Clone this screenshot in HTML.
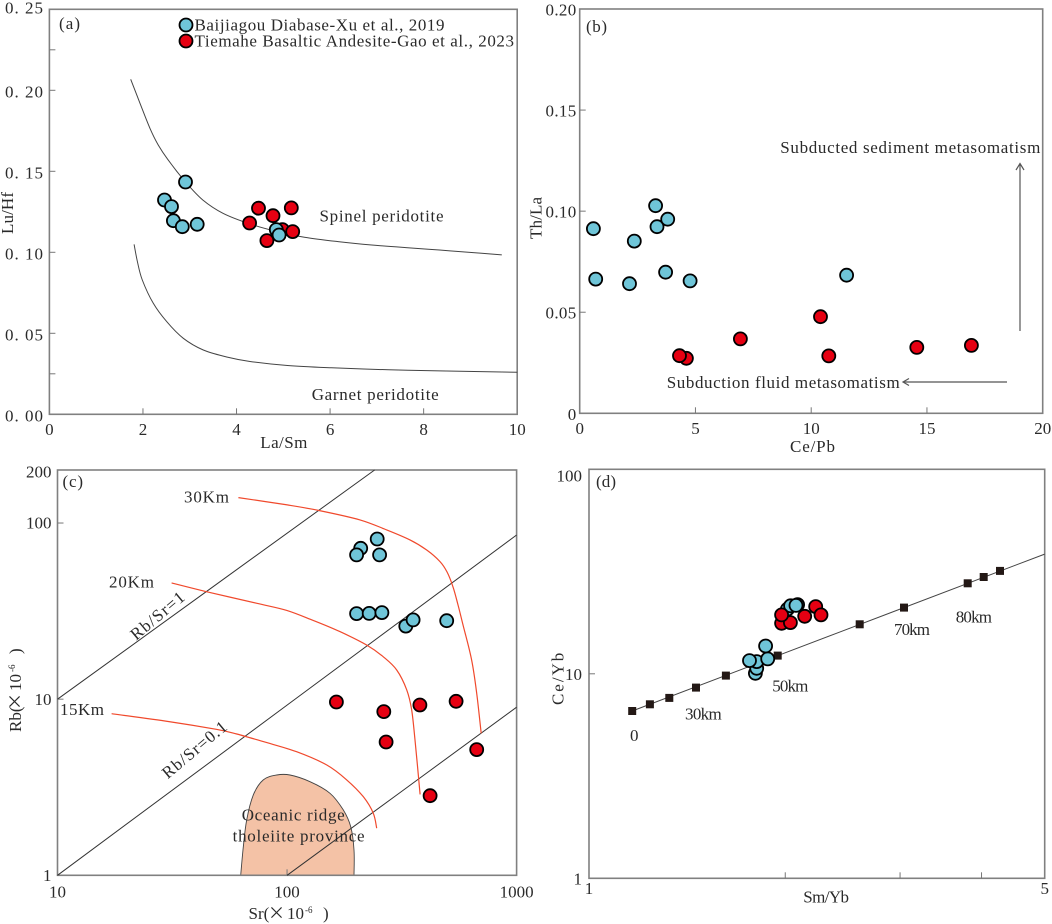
<!DOCTYPE html>
<html lang="en">
<head>
<meta charset="utf-8">
<title>Geochemical discrimination diagrams</title>
<style>
html,body{margin:0;padding:0;background:#fff;width:1052px;height:924px;overflow:hidden}
svg{display:block}
text{font-family:"Liberation Serif","Noto Serif CJK SC",serif;fill:#2a2a2a;font-size:17px}
.cjk{font-family:"Noto Sans CJK SC","Liberation Sans",sans-serif}
</style>
</head>
<body>
<svg id="chart" xmlns="http://www.w3.org/2000/svg" width="1052" height="924" viewBox="0 0 1052 924">
  <rect width="1052" height="924" fill="#fff"/>

  <g id="panel-a"></g>
  <g id="panel-b"></g>
  <g id="panel-c"></g>
  <g id="panel-d"></g>

  <g>
    <text x="59" y="29" textLength="21">(a)</text>
    <circle cx="186" cy="25" r="6.5" fill="#6fc5d8" stroke="#000" stroke-width="1.8"/>
    <text x="194.5" y="30.5" textLength="250">Baijiagou Diabase-Xu et al., 2019</text>
    <circle cx="186" cy="41" r="6.5" fill="#e60012" stroke="#000" stroke-width="1.8"/>
    <text x="194.5" y="46.5" textLength="319.5">Tiemahe Basaltic Andesite-Gao et al., 2023</text>
    <text x="319.5" y="221.5" textLength="124">Spinel peridotite</text>
    <text x="311.7" y="400" textLength="127">Garnet peridotite</text>
    <text x="260.3" y="448" textLength="47">La/Sm</text>
    <text transform="translate(13,234) rotate(-90)" textLength="42">Lu/Hf</text>
  </g>

  <g>
    <text x="586" y="32" textLength="21">(b)</text>
    <text x="780.3" y="153" textLength="260">Subducted sediment metasomatism</text>
    <text x="666.7" y="388" textLength="233">Subduction fluid metasomatism</text>
    <g fill="none" stroke="#555" stroke-width="1.2">
      <path d="M1020 331V164"/><path d="M1016 170L1020 163.5L1024 170"/>
    </g>
    <g fill="none" stroke="#555" stroke-width="1.2">
      <path d="M1007 382H904"/><path d="M909 378.5L903 382L909 385.5"/>
    </g>
    <text x="790" y="452" textLength="45">Ce/Pb</text>
    <text transform="translate(541.7,239) rotate(-90)" textLength="42">Th/La</text>
  </g>

  <g>
    <text x="62.5" y="487" textLength="20.5">(c)</text>
    <text x="184" y="502.7" textLength="45">30Km</text>
    <text x="109" y="587.7" textLength="45">20Km</text>
    <text x="60" y="715" textLength="44">15Km</text>
    <text transform="translate(161,620) rotate(-40)" text-anchor="middle" textLength="65">Rb/Sr=1</text>
    <text transform="translate(198,754) rotate(-40)" text-anchor="middle" textLength="79">Rb/Sr=0.1</text>
    <text x="241.7" y="820.7" textLength="103">Oceanic ridge</text>
    <text x="232.6" y="841.7" textLength="132">tholeiite province</text>
    <text y="919"><tspan x="248.5">Sr(</tspan><tspan class="cjk" x="268">×</tspan><tspan x="287">10</tspan><tspan x="305" dy="-6" font-size="9">-6</tspan><tspan x="323" dy="6">)</tspan></text>
    <text transform="translate(21,732) rotate(-90)"><tspan x="0">Rb(</tspan><tspan class="cjk" x="22">×</tspan><tspan x="41">10</tspan><tspan x="60" dy="-6" font-size="9">-6</tspan><tspan x="78" dy="6">)</tspan></text>
  </g>

  <g>
    <text x="596" y="487" textLength="20">(d)</text>
    <text x="630" y="741">0</text>
    <text x="685" y="719.3" textLength="36.7">30km</text>
    <text x="772.3" y="691.7" textLength="36">50km</text>
    <text x="894" y="635" textLength="36">70km</text>
    <text x="955.7" y="622.7" textLength="36.3">80km</text>
    <text x="803.3" y="902.7" textLength="45.7">Sm/Yb</text>
    <text transform="translate(563.3,705) rotate(-90)" textLength="52.3">Ce/Yb</text>
  </g>
</svg>

<script>
// Panel (a) La/Sm vs Lu/Hf
const aBlueLaSm = [2.46, 2.61, 2.65, 2.84, 3.16, 2.91, 4.85, 4.91];
const aBlueLuHf = [0.1323, 0.1282, 0.1195, 0.1158, 0.1173, 0.1434, 0.1140, 0.1107];
const aRedBackLaSm = [4.98];
const aRedBackLuHf = [0.1140];
const aRedLaSm = [4.28, 4.47, 4.78, 5.17, 5.20, 4.65];
const aRedLuHf = [0.1181, 0.1272, 0.1226, 0.1274, 0.1128, 0.1072];
const aSpinelLaSm = [1.738, 1.937, 2.15, 2.328, 2.529, 2.91, 3.28, 3.71, 4.29, 4.87, 5.45, 6.17, 6.89, 7.62, 8.34, 9.06, 9.67];
const aSpinelLuHf = [0.2068, 0.192, 0.1765, 0.1662, 0.1574, 0.1434, 0.1323, 0.1241, 0.1175, 0.1128, 0.1093, 0.1066, 0.1045, 0.1029, 0.1014, 0.0998, 0.0984];
const aGarnetLaSm = [1.81, 1.88, 1.986, 2.221, 2.507, 2.862, 3.29, 3.79, 4.288, 5.09, 6.03, 7.25, 8.34, 10];
const aGarnetLuHf = [0.1049, 0.0945, 0.0829, 0.0685, 0.0572, 0.0469, 0.0397, 0.0354, 0.0326, 0.0301, 0.0287, 0.0275, 0.0268, 0.0259];
const aXTicks = [0, 2, 4, 6, 8, 10];
const aXLabels = ['0', '2', '4', '6', '8', '10'];
const aYTicks = [0, 0.025, 0.05, 0.1, 0.15, 0.2, 0.225, 0.25];
const aYLabelValues = [0, 0.05, 0.1, 0.15, 0.2, 0.25];
const aYLabels = ['0. 00', '0. 05', '0. 10', '0. 15', '0. 20', '0. 25'];

// Panel (b) Ce/Pb vs Th/La
const bBlueCePb = [0.59, 0.69, 2.15, 2.36, 3.28, 3.34, 3.80, 3.71, 4.77, 11.53];
const bBlueThLa = [0.0913, 0.0664, 0.0641, 0.0852, 0.1027, 0.0923, 0.0960, 0.0698, 0.0655, 0.0683];
const bRedCePb = [4.61, 4.31, 6.94, 10.40, 10.76, 14.56, 16.92];
const bRedThLa = [0.0272, 0.0285, 0.0368, 0.0478, 0.0284, 0.0326, 0.0336];
const bXTicks = [0, 5, 10, 15, 20];
const bXLabels = ['0', '5', '10', '15', '20'];
const bYTicks = [0, 0.05, 0.1, 0.15, 0.2];
const bYLabels = ['0', '0.05', '0.10', '0.15', '0.20'];

// Panel (c) Sr vs Rb
const cBlueSr = [209.4, 201, 247, 253, 201, 228, 259, 329, 354, 496];
const cBlueRb = [71.9, 65.9, 81.2, 65.9, 30.6, 30.7, 31.0, 26.0, 28.2, 27.9];
const cRedSr = [164, 264, 379, 545, 270, 670, 420];
const cRedRb = [9.64, 8.5, 9.27, 9.72, 5.71, 5.17, 2.83];
const cRatio1Sr = [10, 240.6];
const cRatio1Rb = [10, 200];
const cRatio01Sr = [10, 1000];
const cRatio01Rb = [1, 85.5];
const cRatio001Sr = [100, 1000];
const cRatio001Rb = [1, 9.0];
const c30Sr = [61.4, 100.3, 138.5, 207.9, 271.7, 343.2, 405.8, 463.8, 497.6, 528.5, 555.5, 584, 637, 670, 701];
const c30Rb = [139.4, 126.7, 117.6, 104.1, 91.4, 80.2, 70.3, 60.4, 52.8, 43.4, 34.3, 26.4, 16.7, 10.8, 6.40];
const c20Sr = [31.4, 46.0, 73.9, 99.7, 130, 170, 222, 262.6, 300.5, 332, 349, 361, 380];
const c20Rb = [45.7, 40.4, 35.0, 31.9, 28.0, 24.2, 20.3, 17.4, 14.65, 11.3, 8.68, 5.87, 2.88];
const c15Sr = [17.2, 30.6, 49.2, 60.4, 78.8, 110, 149, 182, 215, 237.5, 245.8];
const c15Rb = [8.27, 7.46, 6.74, 6.34, 5.74, 5.03, 4.23, 3.48, 2.79, 2.25, 1.85];
const cFieldSr = [62.8, 64.5, 66.7, 71.3, 78.8, 90.1, 103, 125.9, 153.9, 175.8, 189.4, 195.8, 195.8];
const cFieldRb = [1, 1.45, 2.06, 2.86, 3.48, 3.71, 3.71, 3.40, 2.92, 2.35, 1.89, 1.39, 1];
const cXTicks = [100];
const cXLabelValues = [10, 100, 1000];
const cXLabels = ['10', '100', '1000'];
const cYTicks = [10, 100];
const cYLabelValues = [1, 10, 100, 200];
const cYLabels = ['1', '10', '100', '200'];

// Panel (d) Sm/Yb vs Ce/Yb
const dBlueSmYb = [1.800, 1.808, 1.808, 1.880, 1.866, 1.763, 2.015, 2.089, 2.038, 2.077];
const dBlueCeYb = [10.06, 10.64, 11.47, 11.82, 13.68, 11.6, 20.7, 21.8, 21.5, 21.6];
const dRedSmYb = [1.974, 2.037, 1.974, 2.142, 2.227, 2.269];
const dRedCeYb = [17.65, 17.8, 19.4, 19.1, 21.3, 19.4];
const dMeltSmYb = [1.165, 1.240, 1.328, 1.459, 1.622, 1.947, 2.601, 3.042, 3.809, 4.031, 4.270];
const dMeltCeYb = [6.58, 7.09, 7.62, 8.56, 9.80, 12.27, 17.46, 21.07, 27.7, 29.75, 31.84];
const dLineSmYb = [1.165, 5];
const dLineCeYb = [6.58, 38.5];
const dXTicks = [2, 3, 4];
const dXLabelValues = [1, 5];
const dXLabels = ['1', '5'];
const dYTicks = [10];
const dYLabelValues = [1, 10, 100];
const dYLabels = ['1', '10', '100'];

const SVGNS = 'http://www.w3.org/2000/svg';
function make(parent, tag, name) {
  const el = document.createElementNS(SVGNS, tag);
  
  
  parent.appendChild(el);
  return el;
}
function linScale(d0, d1, r0, r1) {
  return v => r0 + (v - d0) / (d1 - d0) * (r1 - r0);
}
function logScale(d0, d1, r0, r1) {
  return v => r0 + (Math.log10(v) - Math.log10(d0)) / (Math.log10(d1) - Math.log10(d0)) * (r1 - r0);
}
function smoothPath(xs, ys, sx, sy) {
  const p = xs.map((x, i) => [sx(x), sy(ys[i])]);
  let d = 'M' + p[0][0].toFixed(1) + ' ' + p[0][1].toFixed(1);
  for (let i = 0; i < p.length - 1; i++) {
    const a = p[Math.max(i - 1, 0)], b = p[i], c = p[i + 1], e = p[Math.min(i + 2, p.length - 1)];
    const c1x = b[0] + (c[0] - a[0]) / 6, c1y = b[1] + (c[1] - a[1]) / 6;
    const c2x = c[0] - (e[0] - b[0]) / 6, c2y = c[1] - (e[1] - b[1]) / 6;
    d += 'C' + [c1x, c1y, c2x, c2y, c[0], c[1]].map(n => n.toFixed(1)).join(' ');
  }
  return d;
}
function curve(g, name, xs, ys, sx, sy, color, width) {
  const el = make(g, 'path', name);
  el.setAttribute('d', smoothPath(xs, ys, sx, sy));
  el.setAttribute('fill', 'none');
  el.setAttribute('stroke', color);
  el.setAttribute('stroke-width', width);
  return el;
}
function dots(g, name, xs, ys, sx, sy, fill) {
  xs.forEach((x, i) => {
    const el = make(g, 'circle', name);
    el.setAttribute('cx', sx(x).toFixed(1));
    el.setAttribute('cy', sy(ys[i]).toFixed(1));
    el.setAttribute('r', 6.5);
    el.setAttribute('fill', fill);
    el.setAttribute('stroke', '#000');
    el.setAttribute('stroke-width', 1.8);
  });
}
function axes(g, key, f, sx, sy, xt, yt, xlv, xl, ylv, yl, yRight, xBase, topNudge, yShift, spacing) {
  const frame = make(g, 'rect', key + '-plot-frame');
  frame.setAttribute('x', f.x0);
  frame.setAttribute('y', f.y0);
  frame.setAttribute('width', f.x1 - f.x0);
  frame.setAttribute('height', f.y1 - f.y0);
  frame.setAttribute('fill', 'none');
  frame.setAttribute('stroke', '#808080');
  frame.setAttribute('stroke-width', 1.6);
  xt.forEach(v => {
    const t = make(g, 'line', key + '-x-tick');
    t.setAttribute('x1', sx(v)); t.setAttribute('x2', sx(v));
    t.setAttribute('y1', f.y1); t.setAttribute('y2', f.y1 - 6);
    t.setAttribute('stroke', '#777'); t.setAttribute('stroke-width', 1);
  });
  yt.forEach(v => {
    const t = make(g, 'line', key + '-y-tick');
    t.setAttribute('x1', f.x0); t.setAttribute('x2', f.x0 + 6);
    t.setAttribute('y1', sy(v)); t.setAttribute('y2', sy(v));
    t.setAttribute('stroke', '#777'); t.setAttribute('stroke-width', 1);
  });
  xlv.forEach((v, i) => {
    const t = make(g, 'text', key + '-x-tick-label');
    t.setAttribute('x', sx(v));
    t.setAttribute('y', xBase);
    t.setAttribute('text-anchor', 'middle');
    t.textContent = xl[i];
  });
  ylv.forEach((v, i) => {
    const t = make(g, 'text', key + '-y-tick-label');
    let y = sy(v) + yShift;
    if (sy(v) < f.y0 + 1) y += topNudge;
    t.setAttribute('x', yRight);
    t.setAttribute('y', y + 5.7);
    t.setAttribute('text-anchor', 'end');
    t.setAttribute('letter-spacing', spacing);
    t.textContent = yl[i];
  });
}

// ---- Panel a ----
(function () {
  const g = document.getElementById('panel-a');
  const f = {x0: 49.4, x1: 517.2, y0: 9.3, y1: 414.3};
  const sx = linScale(0, 10, f.x0, f.x1), sy = linScale(0, 0.25, f.y1, f.y0);
  axes(g, 'a', f, sx, sy, aXTicks.slice(1, -1), aYTicks.slice(1, -1), aXTicks, aXLabels, aYLabelValues, aYLabels, 44, 435, -3, 1.5, 1);
  curve(g, 'spinel-curve', aSpinelLaSm, aSpinelLuHf, sx, sy, '#444', 1);
  curve(g, 'garnet-curve', aGarnetLaSm, aGarnetLuHf, sx, sy, '#444', 1);
  dots(g, 'tiemahe-point', aRedBackLaSm, aRedBackLuHf, sx, sy, '#e60012');
  dots(g, 'baijiagou-point', aBlueLaSm, aBlueLuHf, sx, sy, '#6fc5d8');
  dots(g, 'tiemahe-point', aRedLaSm, aRedLuHf, sx, sy, '#e60012');
})();

// ---- Panel b ----
(function () {
  const g = document.getElementById('panel-b');
  const f = {x0: 579.7, x1: 1042.7, y0: 9, y1: 413.3};
  const sx = linScale(0, 20, f.x0, f.x1), sy = linScale(0, 0.2, f.y1, f.y0);
  axes(g, 'b', f, sx, sy, bXTicks.slice(1, -1), bYTicks.slice(1, -1), bXTicks, bXLabels, bYTicks, bYLabels, 576.5, 434, 0, 0.8, 0.3);
  dots(g, 'baijiagou-point', bBlueCePb, bBlueThLa, sx, sy, '#6fc5d8');
  dots(g, 'tiemahe-point', bRedCePb, bRedThLa, sx, sy, '#e60012');
})();

// ---- Panel c ----
(function () {
  const g = document.getElementById('panel-c');
  const f = {x0: 57.5, x1: 516.6, y0: 470, y1: 875.3};
  const sx = logScale(10, 1000, f.x0, f.x1), sy = logScale(1, 200, f.y1, f.y0);
  const field = make(g, 'path', 'oceanic-ridge-tholeiite-field');
  field.setAttribute('d', smoothPath(cFieldSr, cFieldRb, sx, sy) + 'Z');
  field.setAttribute('fill', '#f4c2a6');
  field.setAttribute('stroke', '#444');
  field.setAttribute('stroke-width', 0.9);
  axes(g, 'c', f, sx, sy, cXTicks, cYTicks, cXLabelValues, cXLabels, cYLabelValues, cYLabels, 51.5, 897.5, 2, 0, 0);
  curve(g, 'rb-sr-1-line', cRatio1Sr, cRatio1Rb, sx, sy, '#333', 1);
  curve(g, 'rb-sr-0.1-line', cRatio01Sr, cRatio01Rb, sx, sy, '#333', 1);
  curve(g, 'rb-sr-0.01-line', cRatio001Sr, cRatio001Rb, sx, sy, '#333', 1);
  curve(g, 'depth-curve-30km', c30Sr, c30Rb, sx, sy, '#f0492c', 1.2);
  curve(g, 'depth-curve-20km', c20Sr, c20Rb, sx, sy, '#f0492c', 1.2);
  curve(g, 'depth-curve-15km', c15Sr, c15Rb, sx, sy, '#f0492c', 1.2);
  dots(g, 'baijiagou-point', cBlueSr, cBlueRb, sx, sy, '#6fc5d8');
  dots(g, 'tiemahe-point', cRedSr, cRedRb, sx, sy, '#e60012');
})();

// ---- Panel d ----
(function () {
  const g = document.getElementById('panel-d');
  const f = {x0: 589, x1: 1044.7, y0: 469.3, y1: 878.3};
  const sx = logScale(1, 5, f.x0, f.x1), sy = logScale(1, 100, f.y1, f.y0);
  axes(g, 'd', f, sx, sy, dXTicks, dYTicks, dXLabelValues, dXLabels, dYLabelValues, dYLabels, 582, 894, 6, 0.5, 0);
  curve(g, 'melting-curve', dLineSmYb, dLineCeYb, sx, sy, '#444', 1);
  dMeltSmYb.forEach((x, i) => {
    const el = make(g, 'rect', 'melting-depth-marker');
    el.setAttribute('x', (sx(x) - 4).toFixed(1));
    el.setAttribute('y', (sy(dMeltCeYb[i]) - 4).toFixed(1));
    el.setAttribute('width', 8);
    el.setAttribute('height', 8);
    el.setAttribute('fill', '#231815');
  });
  dots(g, 'baijiagou-point', dBlueSmYb, dBlueCeYb, sx, sy, '#6fc5d8');
  dots(g, 'tiemahe-point', dRedSmYb, dRedCeYb, sx, sy, '#e60012');
})();
</script>
</body>
</html>
